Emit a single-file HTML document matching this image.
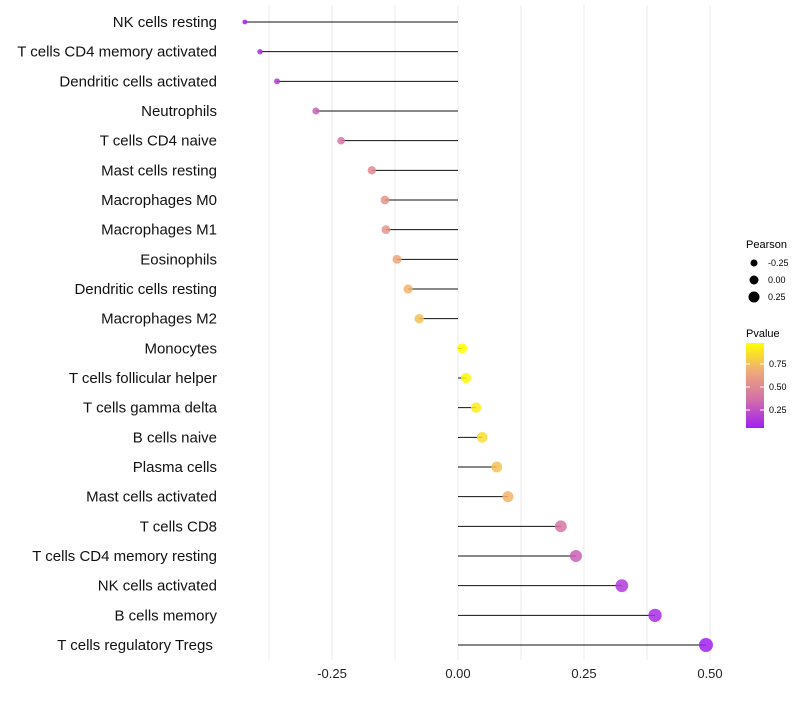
<!DOCTYPE html>
<html><head><meta charset="utf-8"><style>
body{margin:0;background:#fff;font-family:"Liberation Sans",sans-serif}
</style></head><body>
<svg id="c" width="800" height="700" xmlns="http://www.w3.org/2000/svg" font-family="Liberation Sans, sans-serif"></svg>
<script>
const categories=["NK cells resting","T cells CD4 memory activated","Dendritic cells activated","Neutrophils","T cells CD4 naive","Mast cells resting","Macrophages M0","Macrophages M1","Eosinophils","Dendritic cells resting","Macrophages M2","Monocytes","T cells follicular helper","T cells gamma delta","B cells naive","Plasma cells","Mast cells activated","T cells CD8","T cells CD4 memory resting","NK cells activated","B cells memory","T cells regulatory  Tregs\u00a0"];
const pearson=[-0.423,-0.393,-0.359,-0.282,-0.232,-0.171,-0.145,-0.143,-0.121,-0.099,-0.077,0.008,0.016,0.036,0.048,0.077,0.099,0.204,0.234,0.325,0.391,0.492];
const pvalue=[0.05,0.1,0.15,0.3,0.4,0.5,0.55,0.55,0.65,0.7,0.75,0.97,0.95,0.9,0.85,0.75,0.7,0.4,0.3,0.15,0.1,0.03];
const xTicks=[-0.25,0,0.25,0.5];
const xTickLabels=["-0.25","0.00","0.25","0.50"];
const NS="http://www.w3.org/2000/svg",svg=document.getElementById('c');
function el(t,a,p){const e=document.createElementNS(NS,t);for(const k in a)e.setAttribute(k,a[k]);(p||svg).appendChild(e);return e;}
const x=v=>458+504*v;
const y=i=>22+i*(623/21);
const r=v=>Math.sqrt(Math.max(1,6+47*(v+0.42)));
function lerp(a,b,t){return a.map((c,i)=>Math.round(c+(b[i]-c)*t));}
function col(p){const t=Math.max(0,Math.min(1,(p-0.05)/0.92));const s=[[160,32,240],[210,110,170],[240,170,120],[255,255,0]];const k=Math.min(2,Math.floor(t*3));const c=lerp(s[k],s[k+1],t*3-k);return`rgb(${c})`;}
for(let g=-0.375;g<=0.6;g+=0.125){const l=el('line',{x1:x(g),x2:x(g),y1:5,y2:660,stroke:'#ebebeb','stroke-width':1});}
xTicks.forEach((t,i)=>{const e=el('text',{x:x(t),y:678,'text-anchor':'middle','font-size':13,fill:'#222'});e.textContent=xTickLabels[i];});
categories.forEach((c,i)=>{
 const t=el('text',{x:217,y:y(i)+5,'text-anchor':'end','font-size':15,fill:'#111'});t.textContent=c;
 
 
 const l=el('line',{x1:x(0),x2:x(pearson[i]),y1:y(i),y2:y(i),stroke:'#111','stroke-width':1});
 
 
 const d=el('circle',{cx:x(pearson[i]),cy:y(i),r:r(pearson[i]),fill:col(pvalue[i]),opacity:0.85});
 
 
});
const lg=el('g',{});
let t=el('text',{x:746,y:248,'font-size':11},lg);t.textContent='Pearson';
[[-0.25,3.5,263],[0,4.5,280],[0.25,5.5,297]].forEach(([v,rr,yy],i)=>{const c=el('circle',{cx:754,cy:yy,r:rr,fill:'#000'},lg);const tt=el('text',{x:768,y:yy+3,'font-size':9},lg);tt.textContent=["-0.25","0.00","0.25"][i];});
t=el('text',{x:746,y:337,'font-size':11},lg);t.textContent='Pvalue';
const defs=el('defs',{});const gr=el('linearGradient',{id:'pg',x1:0,y1:1,x2:0,y2:0},defs);
[0,0.33,0.67,1].forEach((o,i)=>el('stop',{offset:o,'stop-color':['#a020f0','#d26eaa','#f0aa78','#ffff00'][i]},gr));
const bar=el('rect',{x:746,y:343,width:18,height:85,fill:'url(#pg)'},lg);
[[0.75,364],[0.5,387],[0.25,410]].forEach(([v,yy])=>{el('line',{x1:746,x2:750,y1:yy,y2:yy,stroke:'#fff'},lg);el('line',{x1:760,x2:764,y1:yy,y2:yy,stroke:'#fff'},lg);const tt=el('text',{x:769,y:yy+3,'font-size':9},lg);tt.textContent=v.toFixed(2);});
</script>
</body></html>
